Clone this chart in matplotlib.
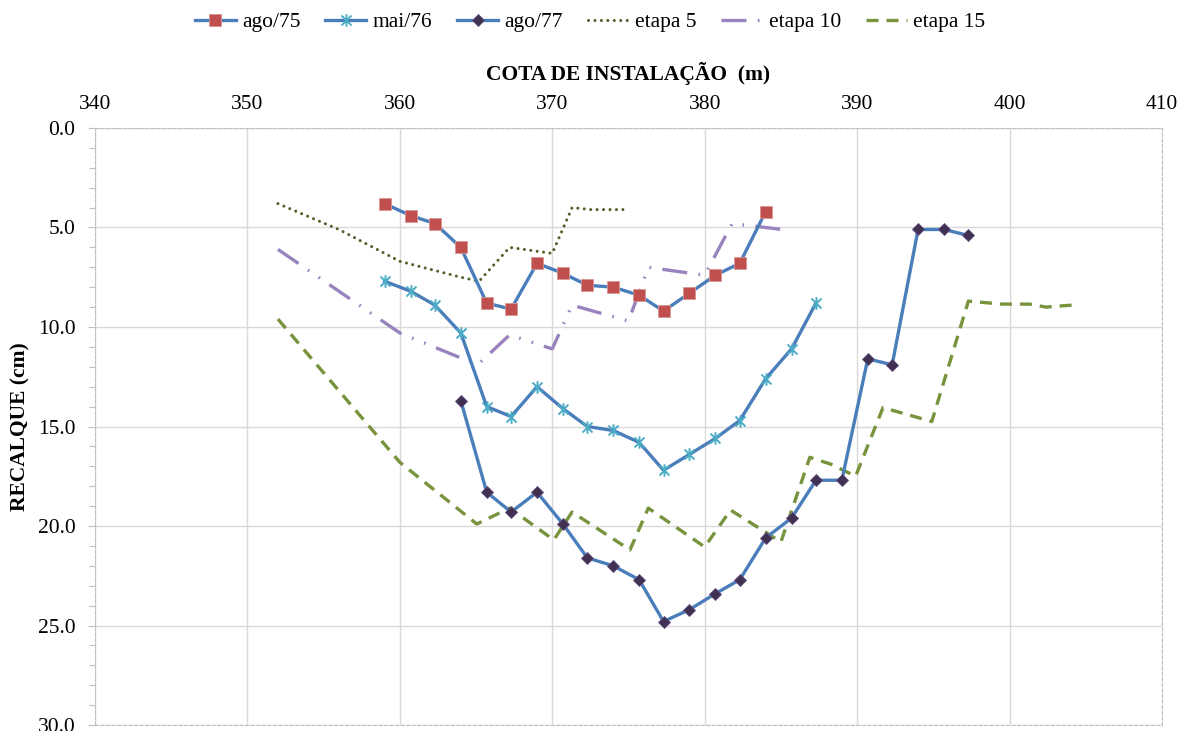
import matplotlib
matplotlib.use('Agg')
import matplotlib.pyplot as plt
from matplotlib.path import Path
from matplotlib.ticker import MultipleLocator, FormatStrFormatter

# cota de instalacao (m) e recalque (cm)
cota_ago75 = [359.0, 360.7, 362.3, 364.0, 365.7, 367.3, 369.0, 370.7, 372.3, 374.0,
              375.7, 377.3, 379.0, 380.7, 382.3, 384.0]
rec_ago75 = [3.8, 4.4, 4.8, 6.0, 8.8, 9.1, 6.8, 7.3, 7.9, 8.0, 8.4, 9.2, 8.3, 7.4, 6.8, 4.2]

cota_mai76 = [359.0, 360.7, 362.3, 364.0, 365.7, 367.3, 369.0, 370.7, 372.3, 374.0,
              375.7, 377.3, 379.0, 380.7, 382.3, 384.0, 385.7, 387.3]
rec_mai76 = [7.7, 8.2, 8.9, 10.3, 14.0, 14.5, 13.0, 14.1, 15.0, 15.2, 15.8, 17.2, 16.4,
             15.6, 14.7, 12.6, 11.1, 8.8]

cota_ago77 = [364.0, 365.7, 367.3, 369.0, 370.7, 372.3, 374.0, 375.7, 377.3, 379.0,
              380.7, 382.3, 384.0, 385.7, 387.3, 389.0, 390.7, 392.3, 394.0, 395.7, 397.3]
rec_ago77 = [13.7, 18.3, 19.3, 18.3, 19.9, 21.6, 22.0, 22.7, 24.8, 24.2, 23.4, 22.7, 20.6,
             19.6, 17.7, 17.7, 11.6, 11.9, 5.1, 5.1, 5.4]

cota_et5 = [352.0, 356.0, 360.0, 362.0, 364.0, 365.2, 367.2, 370.0, 371.3, 372.5, 374.9]
rec_et5 = [3.8, 5.1, 6.7, 7.1, 7.5, 7.7, 6.0, 6.3, 4.0, 4.1, 4.1]

cota_et10 = [352.0, 360.0, 365.1, 367.2, 370.0, 371.3, 375.0, 376.3, 380.0, 381.8, 385.1]
rec_et10 = [6.1, 10.3, 11.9, 10.4, 11.1, 8.9, 9.7, 7.0, 7.4, 4.8, 5.1]

cota_et15 = [352.0, 360.0, 365.05, 367.2, 370.1, 371.3, 375.1, 376.3, 380.0, 381.7, 385.0,
             386.9, 388.3, 389.9, 391.7, 394.9, 397.3, 399.5, 401.3, 402.4, 404.1]
rec_et15 = [9.6, 16.8, 19.9, 19.1, 20.7, 19.3, 21.2, 19.1, 21.05, 19.2, 20.8,
            16.55, 16.9, 17.5, 14.05, 14.75, 8.7, 8.85, 8.85, 9.0, 8.9]

plt.rcParams['font.family'] = ['Liberation Serif', 'DejaVu Serif']

azul = '#4A7EBB'

# marcador estrela do excel (x com traco vertical)
estrela = Path([(-1, -1), (1, 1), (-1, 1), (1, -1), (0, -1.25), (0, 1.25)],
               [Path.MOVETO, Path.LINETO, Path.MOVETO, Path.LINETO, Path.MOVETO, Path.LINETO])

fig = plt.figure(figsize=(11.8, 7.31), dpi=100)
ax = fig.add_axes([0.0805, 0.0082, 0.9042, 0.8167])

ax.plot(cota_ago75, rec_ago75, color=azul, lw=2.4, marker='s', markersize=9,
        markerfacecolor='#C0504D', markeredgecolor='#D99694', markeredgewidth=0.6,
        label='ago/75', zorder=5)
ax.plot(cota_mai76, rec_mai76, color=azul, lw=2.4, marker=estrela, markersize=9,
        markerfacecolor='none', markeredgecolor='#4BACC6', markeredgewidth=1.4,
        label='mai/76', zorder=5)
ax.plot(cota_ago77, rec_ago77, color=azul, lw=2.4, marker='D', markersize=6.5,
        markerfacecolor='#403152', markeredgecolor='#5F4B7A', markeredgewidth=0.6,
        label='ago/77', zorder=5)
ax.plot(cota_et5, rec_et5, color='#4F6228', lw=2.2, linestyle=(0, (0.01, 2.1)),
        dash_capstyle='round', label='etapa 5', zorder=4)
ax.plot(cota_et10, rec_et10, color='#9983BE', lw=2.4,
        linestyle=(0, (7.5, 3.4, 0.5, 3.4, 0.5, 3.4)), label='etapa 10', zorder=4)
ax.plot(cota_et15, rec_et15, color='#77933C', lw=2.4, linestyle=(0, (3.6, 2.4)),
        label='etapa 15', zorder=4)

ax.set_xlim(340, 410)
ax.set_ylim(30, 0)
ax.xaxis.set_major_locator(MultipleLocator(10))
ax.yaxis.set_major_locator(MultipleLocator(5))
ax.yaxis.set_minor_locator(MultipleLocator(1))
ax.yaxis.set_major_formatter(FormatStrFormatter('%.1f'))
ax.xaxis.tick_top()
ax.xaxis.set_label_position('top')
ax.tick_params(axis='x', length=0, pad=10, labelsize=15.5)
ax.tick_params(axis='y', which='major', length=5, width=0.8, color='#BFBFBF',
               pad=9, labelsize=15.5)
ax.tick_params(axis='y', which='minor', length=4, width=0.8, color='#BFBFBF')

ax.grid(True, which='major', color='#D9D9D9', lw=1.0)
ax.set_axisbelow(True)
for lado in ['left', 'right', 'top', 'bottom']:
    ax.spines[lado].set_color('#BFBFBF')
    ax.spines[lado].set_linestyle((0, (3, 2)))
    ax.spines[lado].set_linewidth(0.8)

ax.set_xlabel('COTA DE INSTALAÇÃO  (m)', fontsize=15.5, fontweight='bold', labelpad=11)
ax.set_ylabel('RECALQUE (cm)', fontsize=15.5, fontweight='bold', labelpad=5)

fig.legend(loc='upper center', bbox_to_anchor=(0.5, 1.01), ncol=6, frameon=False,
           fontsize=15.5, handlelength=1.9, handletextpad=0.3, columnspacing=1.15)

fig.savefig('out.png', dpi=100)
